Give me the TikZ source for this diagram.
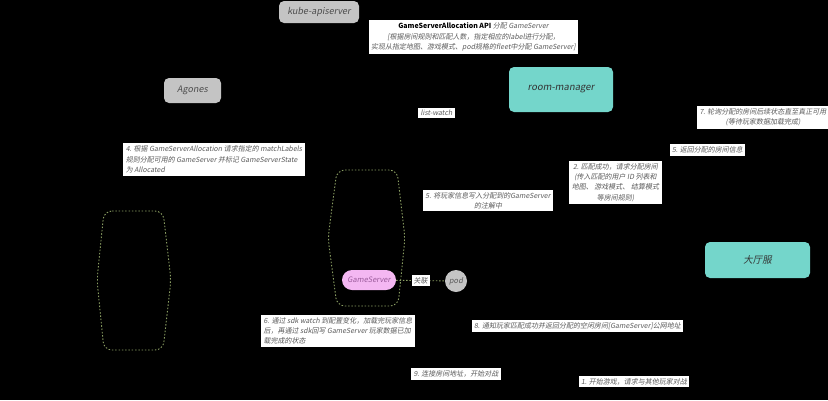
\documentclass[tikz,border=0pt]{standalone}
\usepackage{fontspec}
\setmainfont{Noto Sans CJK SC}[AutoFakeSlant=0.18]
\definecolor{boxgray}{HTML}{C4C4C4}
\definecolor{teal}{HTML}{74D6CB}
\definecolor{pinkfill}{HTML}{F4B7F2}
\definecolor{pinktext}{HTML}{9A5A9A}
\definecolor{dotgreen}{HTML}{8A9E62}
\definecolor{labeltext}{HTML}{5A5A5A}
\begin{document}
\begin{tikzpicture}[x=1pt,y=-1pt,
  lbl/.style={fill=white, inner xsep=2.5pt, inner ysep=2.5pt, text=labeltext,
    font=\fontsize{7}{10.3}\selectfont\itshape},
  graybox/.style={fill=boxgray, rounded corners=5pt, text=black!70,
    font=\fontsize{9}{11}\selectfont\itshape},
  tealbox/.style={fill=teal, rounded corners=5pt, text=black!80,
    font=\fontsize{9.5}{11}\selectfont\itshape},
  dotline/.style={draw=dotgreen, dash pattern=on 1.5pt off 1.8pt, line width=0.9pt}
]
\fill[black] (0,0) rectangle (828,400);
\useasboundingbox (0,0) rectangle (828,400);

% containers
\draw[dotline, rounded corners=8pt] (104,211) -- (163,211) -- (171,280) -- (163,350) -- (104,350) -- (97,280) -- cycle;
\draw[dotline, rounded corners=8pt] (337,170) -- (397,170) -- (405,238) -- (398,306) -- (337,306) -- (328,238) -- cycle;

% main boxes
\node[graybox, minimum width=80pt, minimum height=22pt] (kube) at (319,12) {kube-apiserver};
\node[graybox, minimum width=57pt, minimum height=25pt] (agones) at (192.5,90.5) {Agones};
\node[tealbox, minimum width=104pt, minimum height=45pt] (room) at (561,89.5) {room-manager};
\node[tealbox, minimum width=105pt, minimum height=36pt, font=\fontsize{9.5}{11}\selectfont] (lobby) at (757.5,260) {\textit{大厅服}};

\node[fill=pinkfill, rounded corners=10pt, minimum width=54pt, minimum height=20pt, text=pinktext,
  font=\fontsize{7.5}{9}\selectfont\itshape] (gs) at (369,280) {GameServer};
\node[circle, fill=boxgray, minimum size=22pt, inner sep=0pt, text=black!65,
  font=\fontsize{7.5}{9}\selectfont\itshape] (pod) at (456,281) {pod};
\draw[dotline] (gs) -- node[lbl, inner xsep=2pt] (rel) {关联} (pod);

% labels
\node[lbl, align=center] (gsa) at (473.5,37) {{\upshape\bfseries\color{black}GameServerAllocation API} 分配 GameServer\\
{[}根据房间规则和匹配人数，指定相应的label进行分配，\\
实现从指定地图、游戏模式、pod规格的fleet中分配 GameServer{]}};
\node[lbl] (lw) at (436.5,113) {list-watch};
\node[lbl, align=center] (l7) at (763,117.5) {7. 轮询分配的房间后续状态直至真正可用\\(等待玩家数据加载完成)};
\node[lbl] (l5r) at (707.5,150) {5. 返回分配的房间信息};
\node[lbl, align=left] (l4) at (214,159.5) {4. 根据 GameServerAllocation 请求指定的 matchLabels\\规则分配可用的 GameServer 并标记 GameServerState\\为 Allocated};
\node[lbl, align=center] (l2) at (615.5,182.5) {2. 匹配成功，请求分配房间\\(传入匹配的用户 ID 列表和\\地图、 游戏模式、 结算模式\\等房间规则)};
\node[lbl, align=center] (l5m) at (488,200.5) {5. 将玩家信息写入分配到的GameServer\\的注解中};
\node[lbl, align=left] (l6) at (338,331) {6. 通过 sdk watch 到配置变化，加载完玩家信息\\后，再通过 sdk回写 GameServer 玩家数据已加\\载完成的状态};
\node[lbl] (l8) at (577.5,326) {8. 通知玩家匹配成功并返回分配的空闲房间[GameServer]公网地址};
\node[lbl] (l9) at (456,374) {9. 连接房间地址，开始对战};
\node[lbl] (l1) at (634,381.5) {1. 开始游戏，请求与其他玩家对战};
\end{tikzpicture}
\end{document}
